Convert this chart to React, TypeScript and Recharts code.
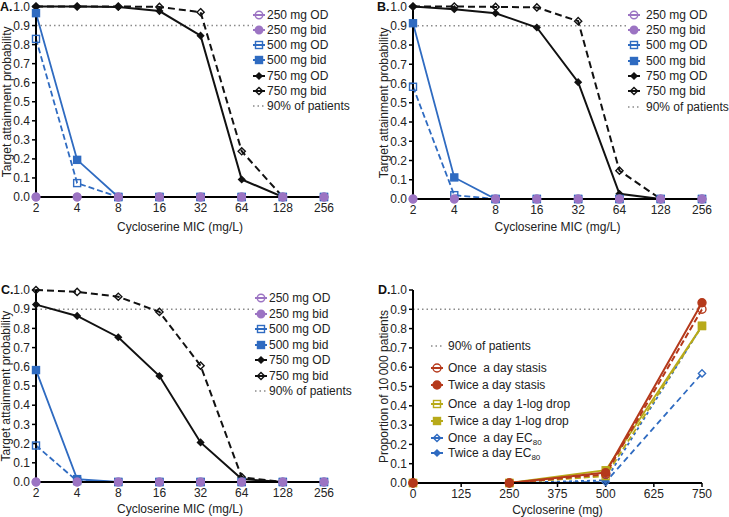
import React from 'react';
import { LineChart, Line, XAxis, YAxis, ReferenceLine, Legend } from 'recharts';

const FONT = '"Liberation Sans", Arial, Helvetica, sans-serif';

// ---------------- data ----------------
const micLabels = ['2', '4', '8', '16', '32', '64', '128', '256'];
const yTicks = [0, 0.1, 0.2, 0.3, 0.4, 0.5, 0.6, 0.7, 0.8, 0.9, 1.0];

// Panel A
const a250OD = [0, 0, 0, 0, 0, 0, 0, 0];
const a250bid = [0, 0, 0, 0, 0, 0, 0, 0];
const a500OD = [0.83, 0.073, 0, 0, 0, 0, 0, 0];
const a500bid = [0.965, 0.195, 0, 0, 0, 0, 0, 0];
const a750OD = [1.0, 1.0, 0.998, 0.976, 0.847, 0.092, 0, 0];
const a750bid = [1.0, 1.0, 1.0, 0.998, 0.97, 0.24, 0, 0];

// Panel B
const b250OD = [0, 0, 0, 0, 0, 0, 0, 0];
const b250bid = [0, 0, 0, 0, 0, 0, 0, 0];
const b500OD = [0.583, 0.02, 0, 0, 0, 0, 0, 0];
const b500bid = [0.913, 0.112, 0, 0, 0, 0, 0, 0];
const b750OD = [1.0, 0.986, 0.965, 0.891, 0.607, 0.027, 0, 0];
const b750bid = [1.0, 1.0, 0.998, 0.995, 0.924, 0.147, 0, 0];

// Panel C
const c250OD = [0, 0, 0, 0, 0, 0, 0, 0];
const c250bid = [0, 0, 0, 0, 0, 0, 0, 0];
const c500OD = [0.19, 0.005, 0, 0, 0, 0, 0, 0];
const c500bid = [0.583, 0.015, 0, 0, 0, 0, 0, 0];
const c750OD = [0.924, 0.865, 0.754, 0.552, 0.206, 0.015, 0, 0];
const c750bid = [1.0, 0.99, 0.965, 0.886, 0.606, 0.025, 0, 0];

// Panel D
const doses = [0, 250, 500, 750];
const doseTicks = [0, 125, 250, 375, 500, 625, 750];
const onceStasis = [0, 0, 0.045, 0.9];
const twiceStasis = [0, 0, 0.054, 0.934];
const once1log = [0, 0, 0.036, 0.813];
const twice1log = [0, 0, 0.066, 0.815];
const onceEC80 = [0, 0, 0.005, 0.568];
const twiceEC80 = [0, 0, 0.014, 0.815];

// ---------------- styles ----------------
const PURPLE = '#9c74c3';
const BLUE = '#2f6bc1';
const BLACK = '#111111';
const RED = '#b5391b';
const OLIVE = '#b8aa1a';
const GRAY = '#8a8a8a';

type Shape = 'circle' | 'square' | 'diamond';
type Spec = {
  key: string;
  name: React.ReactNode;
  color: string;
  shape: Shape;
  filled: boolean;
  size: number;
  dash?: string;
  width: number;
};

const micSpecs: Spec[] = [
  { key: 'od250', name: '250 mg OD', color: PURPLE, shape: 'circle', filled: false, size: 7.5, width: 2 },
  { key: 'bid250', name: '250 mg bid', color: PURPLE, shape: 'circle', filled: true, size: 7.5, width: 2 },
  { key: 'od500', name: '500 mg OD', color: BLUE, shape: 'square', filled: false, size: 7, dash: '6 3', width: 1.8 },
  { key: 'bid500', name: '500 mg bid', color: BLUE, shape: 'square', filled: true, size: 7, width: 1.8 },
  { key: 'od750', name: '750 mg OD', color: BLACK, shape: 'diamond', filled: true, size: 5, width: 2 },
  { key: 'bid750', name: '750 mg bid', color: BLACK, shape: 'diamond', filled: false, size: 6, dash: '7 4', width: 2 },
];
// drawing order (last on top)
const micDrawOrder = ['bid750', 'od750', 'od500', 'bid500', 'od250', 'bid250'];

const ec80 = (w: string) => (
  <span>
    {w} a day EC<sub style={{ fontSize: 8, verticalAlign: 'sub', lineHeight: 0 }}>80</sub>
  </span>
);

const doseSpecs: Spec[] = [
  { key: 'onceStasis', name: 'Once\u00a0 a day stasis', color: RED, shape: 'circle', filled: false, size: 8, dash: '6 3', width: 2 },
  { key: 'twiceStasis', name: 'Twice a day stasis', color: RED, shape: 'circle', filled: true, size: 8, width: 2 },
  { key: 'once1log', name: 'Once\u00a0 a day 1-log drop', color: OLIVE, shape: 'square', filled: false, size: 7, dash: '6 3', width: 1.8 },
  { key: 'twice1log', name: 'Twice a day 1-log drop', color: OLIVE, shape: 'square', filled: true, size: 7, width: 1.8 },
  { key: 'onceEC80', name: ec80('Once\u00a0'), color: BLUE, shape: 'diamond', filled: false, size: 6, dash: '6 4', width: 1.8 },
  { key: 'twiceEC80', name: ec80('Twice'), color: BLUE, shape: 'diamond', filled: true, size: 5, dash: '3 3', width: 1.8 },
];
const doseDrawOrder = ['onceEC80', 'twiceEC80', 'once1log', 'twice1log', 'onceStasis', 'twiceStasis'];

function buildMicRows(s: number[][]) {
  return micLabels.map((m, i) => ({
    mic: m,
    od250: s[0][i],
    bid250: s[1][i],
    od500: s[2][i],
    bid500: s[3][i],
    od750: s[4][i],
    bid750: s[5][i],
  }));
}

const rowsA = buildMicRows([a250OD, a250bid, a500OD, a500bid, a750OD, a750bid]);
const rowsB = buildMicRows([b250OD, b250bid, b500OD, b500bid, b750OD, b750bid]);
const rowsC = buildMicRows([c250OD, c250bid, c500OD, c500bid, c750OD, c750bid]);
const rowsD = doses.map((d, i) => ({
  dose: d,
  onceStasis: onceStasis[i],
  twiceStasis: twiceStasis[i],
  once1log: once1log[i],
  twice1log: twice1log[i],
  onceEC80: onceEC80[i],
  twiceEC80: twiceEC80[i],
}));

// ---------------- helpers ----------------
function MarkerShape({ x, y, spec }: { x: number; y: number; spec: Spec }) {
  const fill = spec.filled ? spec.color : 'none';
  const sw = 1.4;
  const s = spec.size;
  if (spec.shape === 'circle') {
    return <circle cx={x} cy={y} r={s / 2} fill={fill} stroke={spec.color} strokeWidth={sw} />;
  }
  if (spec.shape === 'square') {
    return <rect x={x - s / 2} y={y - s / 2} width={s} height={s} fill={fill} stroke={spec.color} strokeWidth={sw} />;
  }
  const r = s / 2 + 0.6;
  return (
    <polygon
      points={`${x},${y - r} ${x + r},${y} ${x},${y + r} ${x - r},${y}`}
      fill={fill}
      stroke={spec.color}
      strokeWidth={sw}
    />
  );
}

const makeDot = (spec: Spec) => (props: any) => {
  const { cx, cy, index } = props;
  const k = `${spec.key}-${index}`;
  if (cx == null || cy == null) return <g key={k} />;
  return (
    <g key={k}>
      <MarkerShape x={cx} y={cy} spec={spec} />
    </g>
  );
};

type LegendEntry = { spec?: Spec; name: React.ReactNode; ref?: boolean };

function LegendBox({
  entries,
  rowYs,
  textLeft,
  markerW,
  fontSize,
  width,
}: {
  entries: LegendEntry[];
  rowYs: number[];
  textLeft: number;
  markerW: number;
  fontSize: number;
  width: number;
}) {
  const h = rowYs[rowYs.length - 1] + 9;
  return (
    <div style={{ position: 'relative', width, height: h, fontFamily: FONT }}>
      {entries.map((e, i) => (
        <div
          key={i}
          style={{
            position: 'absolute',
            left: 0,
            top: rowYs[i] - 8,
            height: 16,
            width,
            background: '#fff',
            whiteSpace: 'nowrap',
          }}
        >
          <svg width={markerW} height={16} style={{ position: 'absolute', left: 0, top: 0 }}>
            {e.ref ? (
              <line x1={0} y1={8} x2={markerW} y2={8} stroke={GRAY} strokeWidth={1.5} strokeDasharray="1.5 3" />
            ) : (
              <>
                <line x1={0} y1={8} x2={markerW} y2={8} stroke={e.spec!.color} strokeWidth={2} />
                <MarkerShape x={markerW / 2} y={8} spec={e.spec!} />
              </>
            )}
          </svg>
          <span
            style={{
              position: 'absolute',
              left: textLeft,
              top: 0,
              fontSize,
              lineHeight: '16px',
              color: '#222',
            }}
          >
            {e.name}
          </span>
        </div>
      ))}
    </div>
  );
}

const tickStyle = { fontSize: 12, fill: '#222', fontFamily: FONT };
const axisLineStyle = { stroke: '#000', strokeWidth: 2 };
const tickLineStyle = { stroke: '#000', strokeWidth: 1.5 };

const yLabel = (text: React.ReactNode, dx: number) => (p: any) => {
  const vb = p && p.viewBox ? p.viewBox : { x: 0, y: 0, width: 0, height: 0 };
  const cx = (vb.x ?? 0) + dx;
  const cy = (vb.y ?? 0) + (vb.height ?? 0) / 2;
  return (
    <text
      x={cx}
      y={cy}
      transform={`rotate(-90 ${cx} ${cy})`}
      textAnchor="middle"
      dominantBaseline="central"
      fontSize={12}
      fontFamily={FONT}
      fill="#222"
    >
      {text}
    </text>
  );
};

const xLabel = (text: string, dy: number) => (p: any) => {
  const vb = p && p.viewBox ? p.viewBox : { x: 0, y: 0, width: 0, height: 0 };
  const cx = (vb.x ?? 0) + (vb.width ?? 0) / 2;
  const cy = (vb.y ?? 0) + dy;
  return (
    <text x={cx} y={cy} textAnchor="middle" dominantBaseline="central" fontSize={12} fontFamily={FONT} fill="#222">
      {text}
    </text>
  );
};

type PanelGeom = {
  left: number;
  top: number;
  width: number;
  height: number;
  marginTop: number;
  marginRight: number;
  yAxisWidth: number;
  xAxisHeight: number;
  yLabelX: number;
  xLabelDy: number;
  legendLeft: number;
  legendRows: number[];
  legendTextLeft: number;
  legendFont: number;
  letter: string;
  letterLeft: number;
  letterTop: number;
};

function MicPanel({ rows, g }: { rows: any[]; g: PanelGeom }) {
  const legendEntries: LegendEntry[] = [
    ...micSpecs.map((s) => ({ spec: s, name: s.name })),
    { ref: true, name: '90% of patients' },
  ];
  return (
    <div style={{ position: 'absolute', left: g.left, top: g.top, width: g.width, height: g.height }}>
      <LineChart
        width={g.width}
        height={g.height}
        data={rows}
        margin={{ top: g.marginTop, right: g.marginRight, bottom: 0, left: 0 }}
      >
        <XAxis
          dataKey="mic"
          type="category"
          scale="point"
          interval={0}
          height={g.xAxisHeight}
          tick={tickStyle}
          tickSize={4}
          tickMargin={2}
          axisLine={axisLineStyle}
          tickLine={tickLineStyle}
          label={xLabel('Cycloserine MIC (mg/L)', g.xLabelDy)}
        />
        <YAxis
          type="number"
          domain={[0, 1]}
          ticks={yTicks}
          interval={0}
          width={g.yAxisWidth}
          tick={tickStyle}
          tickSize={4}
          tickMargin={2}
          tickFormatter={(v: number) => v.toFixed(1)}
          axisLine={axisLineStyle}
          tickLine={tickLineStyle}
          label={yLabel('Target attainment probability', g.yLabelX)}
        />
        <ReferenceLine y={0.9} stroke={GRAY} strokeWidth={1.5} strokeDasharray="1.5 3" ifOverflow="extendDomain" />
        {micDrawOrder.map((k) => {
          const s = micSpecs.find((m) => m.key === k)!;
          return (
            <Line
              key={k}
              type="linear"
              dataKey={k}
              stroke={s.color}
              strokeWidth={s.width}
              strokeDasharray={s.dash}
              dot={makeDot(s)}
              activeDot={false}
              isAnimationActive={false}
            />
          );
        })}
        <Legend
          layout="horizontal"
          verticalAlign="middle"
          align="center"
          wrapperStyle={{ left: g.legendLeft, top: 0, width: 'auto', height: 'auto' }}
          content={() => (
            <LegendBox
              entries={legendEntries}
              rowYs={g.legendRows}
              textLeft={g.legendTextLeft}
              markerW={12}
              fontSize={g.legendFont}
              width={100}
            />
          )}
        />
      </LineChart>
      <div
        style={{
          position: 'absolute',
          left: g.letterLeft,
          top: g.letterTop,
          fontFamily: FONT,
          fontWeight: 'bold',
          fontSize: 12.5,
          lineHeight: '13px',
          color: '#111',
        }}
      >
        {g.letter}
      </div>
    </div>
  );
}

function DosePanel() {
  const g = {
    left: 365,
    top: 255,
    width: 364,
    height: 262,
  };
  const legendEntries: LegendEntry[] = [
    { ref: true, name: '90% of patients' },
    ...doseSpecs.map((s) => ({ spec: s, name: s.name })),
  ];
  return (
    <div style={{ position: 'absolute', left: g.left, top: g.top, width: g.width, height: g.height }}>
      <LineChart width={g.width} height={g.height} data={rowsD} margin={{ top: 35, right: 27, bottom: 0, left: 0 }}>
        <XAxis
          dataKey="dose"
          type="number"
          domain={[0, 750]}
          ticks={doseTicks}
          interval={0}
          height={34}
          tick={tickStyle}
          tickSize={4}
          tickMargin={2}
          axisLine={axisLineStyle}
          tickLine={tickLineStyle}
          label={xLabel('Cycloserine (mg)', 27)}
        />
        <YAxis
          type="number"
          domain={[0, 1]}
          ticks={yTicks}
          interval={0}
          width={48}
          tick={tickStyle}
          tickSize={4}
          tickMargin={2}
          tickFormatter={(v: number) => v.toFixed(1)}
          axisLine={axisLineStyle}
          tickLine={tickLineStyle}
          label={yLabel('Proportion of 10\u2009000 patients', 19)}
        />
        <ReferenceLine y={0.9} stroke={GRAY} strokeWidth={1.5} strokeDasharray="1.5 3" />
        {doseDrawOrder.map((k) => {
          const s = doseSpecs.find((m) => m.key === k)!;
          return (
            <Line
              key={k}
              type="linear"
              dataKey={k}
              stroke={s.color}
              strokeWidth={s.width}
              strokeDasharray={s.dash}
              dot={makeDot(s)}
              activeDot={false}
              isAnimationActive={false}
            />
          );
        })}
        <Legend
          layout="horizontal"
          verticalAlign="middle"
          align="center"
          wrapperStyle={{ left: 66, top: 0, width: 'auto', height: 'auto' }}
          content={() => (
            <LegendBox
              entries={legendEntries}
              rowYs={[91, 113, 130, 148.5, 166, 182.5, 198]}
              textLeft={17}
              markerW={12}
              fontSize={12}
              width={140}
            />
          )}
        />
      </LineChart>
      <div
        style={{
          position: 'absolute',
          left: 13,
          top: 29,
          fontFamily: FONT,
          fontWeight: 'bold',
          fontSize: 12.5,
          lineHeight: '13px',
          color: '#111',
        }}
      >
        D.
      </div>
    </div>
  );
}

const geomA: PanelGeom = {
  left: 0, top: 0, width: 365, height: 255,
  marginTop: 6.5, marginRight: 41, yAxisWidth: 36, xAxisHeight: 58,
  yLabelX: 7, xLabelDy: 30,
  legendLeft: 253, legendRows: [14.7, 29.9, 45.1, 60.3, 75.5, 90.7, 105.9], legendTextLeft: 14, legendFont: 12,
  letter: 'A.', letterLeft: 0, letterTop: 0.5,
};
const geomB: PanelGeom = {
  left: 365, top: 0, width: 364, height: 255,
  marginTop: 6.5, marginRight: 27, yAxisWidth: 48, xAxisHeight: 56,
  yLabelX: 19, xLabelDy: 28,
  legendLeft: 263, legendRows: [14.7, 30, 45.3, 60.6, 75.9, 91.2, 106.5], legendTextLeft: 18, legendFont: 12,
  letter: 'B.', letterLeft: 12, letterTop: 0.5,
};
const geomC: PanelGeom = {
  left: 0, top: 255, width: 365, height: 262,
  marginTop: 35, marginRight: 41, yAxisWidth: 36, xAxisHeight: 35,
  yLabelX: 6, xLabelDy: 27,
  legendLeft: 255, legendRows: [43.3, 58.8, 74.3, 89.8, 105.3, 120.8, 136.3], legendTextLeft: 14, legendFont: 12,
  letter: 'C.', letterLeft: 1, letterTop: 29,
};

export default function App() {
  return (
    <div
      style={{
        position: 'absolute',
        left: 0,
        top: 0,
        width: 729,
        height: 517,
        background: '#ffffff',
        overflow: 'hidden',
        fontFamily: FONT,
      }}
    >
      <MicPanel rows={rowsA} g={geomA} />
      <MicPanel rows={rowsB} g={geomB} />
      <MicPanel rows={rowsC} g={geomC} />
      <DosePanel />
    </div>
  );
}
